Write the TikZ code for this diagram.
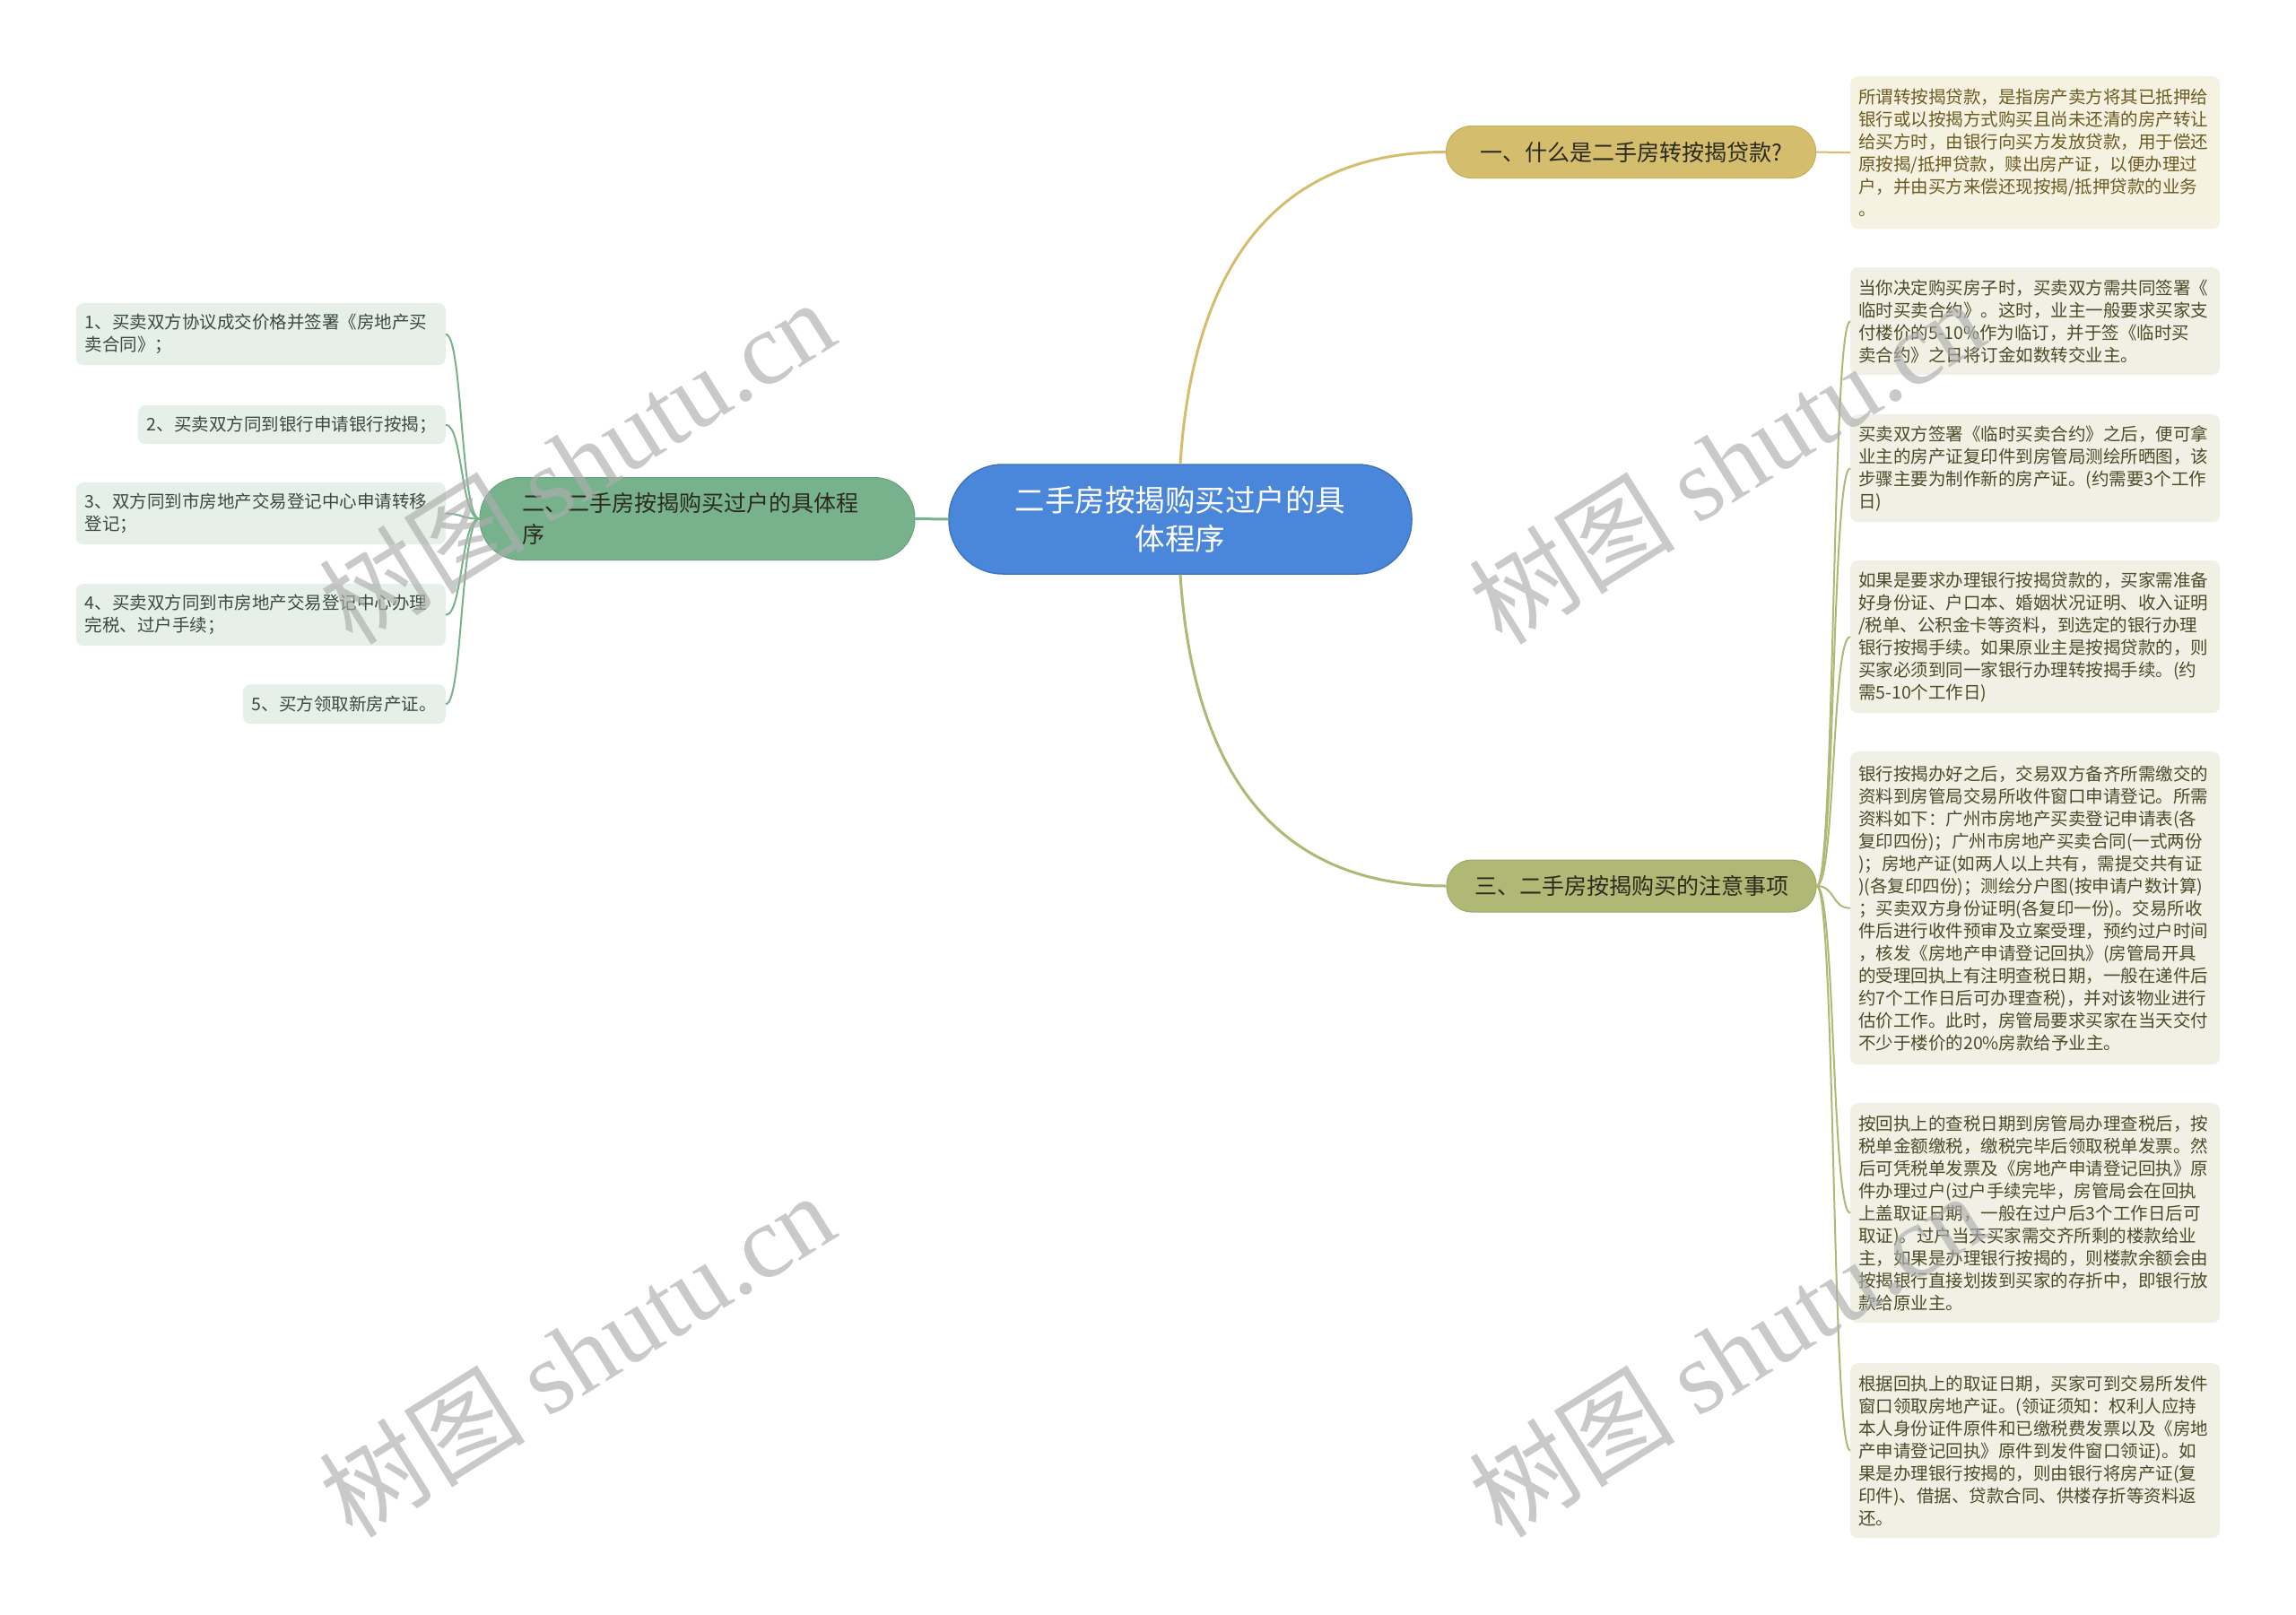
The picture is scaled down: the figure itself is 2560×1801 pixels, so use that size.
\documentclass[tikz,border=0pt]{standalone}
\usepackage{fontspec}
\setmainfont{Noto Sans CJK SC}
\newfontfamily\wmserif{Liberation Serif}
\newfontfamily\wmcjk{Noto Sans CJK SC}
\usetikzlibrary{calc}
\definecolor{cblue}{HTML}{4A86DA}
\definecolor{cbluedark}{HTML}{3D74C2}
\definecolor{bgold}{HTML}{D4BE6E}
\definecolor{bgolddark}{HTML}{C6AE5C}
\definecolor{bolive}{HTML}{B0B876}
\definecolor{bolivedark}{HTML}{A0A866}
\definecolor{bgreen}{HTML}{78B28C}
\definecolor{bgreendark}{HTML}{68A27C}
\definecolor{btext}{HTML}{2B2A1C}
\definecolor{rgoldfill}{HTML}{F5F2E1}
\definecolor{rgoldtext}{HTML}{6B5B22}
\definecolor{rolivefill}{HTML}{F0F1E4}
\definecolor{rolivetext}{HTML}{4B4B2A}
\definecolor{lfill}{HTML}{E6F0E9}
\definecolor{ltext}{HTML}{3A4A40}
\tikzset{
  rootbox/.style={rounded corners=60pt, fill=cblue, draw=cbluedark, line width=1.5pt, text=white,
    font=\fontsize{33.5}{43}\selectfont, align=center, minimum width=516pt, minimum height=122pt, inner sep=0pt},
  branchbox/.style={rounded corners=28pt, line width=1pt, text=btext,
    font=\fontsize{25}{30}\selectfont, minimum width=412pt, minimum height=58pt, inner sep=0pt},
  btwobox/.style={rounded corners=45pt, fill=bgreen, draw=bgreendark, line width=1pt, text=btext,
    font=\fontsize{25}{35}\selectfont, align=left, text width=391pt, inner xsep=47pt, inner ysep=0pt,
    minimum height=92pt},
  rleaf/.style={rounded corners=8pt, text width=394pt, inner xsep=9pt, inner ysep=0pt, align=left,
    font=\fontsize{19.5}{25}\selectfont, anchor=north west},
  rgold/.style={rleaf, fill=rgoldfill, text=rgoldtext},
  rolive/.style={rleaf, fill=rolivefill, text=rolivetext},
  lleaf/.style={rounded corners=8pt, inner xsep=10pt, inner ysep=0pt, fill=lfill, text=ltext,
    font=\fontsize{19.5}{25}\selectfont, anchor=north east},
  lleafwide/.style={lleaf, text width=392pt, align=left},
  mainline/.style={line width=3pt},
  leafline/.style={line width=2pt},
  wm/.style={text=black!32, text opacity=0.65, inner sep=0pt, rotate=32}
}
\begin{document}
\begin{tikzpicture}[x=1pt,y=-1pt]
\useasboundingbox[fill=white] (0,0) rectangle (2560,1801);

% root and branches
\node[rootbox] (root) at (1316,579) {二手房按揭购买过户的具\\体程序};
\node[branchbox, fill=bgold, draw=bgolddark] (b1) at (1818.5,169.5) {一、什么是二手房转按揭贷款?};
\node[branchbox, fill=bolive, draw=bolivedark] (b3) at (1819,988) {三、二手房按揭购买的注意事项};
\node[btwobox] (b2) at (777.5,578.5) {二、二手房按揭购买过户的具体程\\序};

% right leaves
\node[rgold, minimum height=170pt] (r1) at (2063,85) {所谓转按揭贷款，是指房产卖方将其已抵押给\\银行或以按揭方式购买且尚未还清的房产转让\\给买方时，由银行向买方发放贷款，用于偿还\\原按揭/抵押贷款，赎出房产证，以便办理过\\户，并由买方来偿还现按揭/抵押贷款的业务\\。};
\node[rolive, minimum height=120pt] (r2) at (2063,298) {当你决定购买房子时，买卖双方需共同签署《\\临时买卖合约》。这时，业主一般要求买家支\\付楼价的5-10\%作为临订，并于签《临时买\\卖合约》之日将订金如数转交业主。};
\node[rolive, minimum height=120pt] (r3) at (2063,462) {买卖双方签署《临时买卖合约》之后，便可拿\\业主的房产证复印件到房管局测绘所晒图，该\\步骤主要为制作新的房产证。(约需要3个工作\\日)};
\node[rolive, minimum height=170pt] (r4) at (2063,625) {如果是要求办理银行按揭贷款的，买家需准备\\好身份证、户口本、婚姻状况证明、收入证明\\/税单、公积金卡等资料，到选定的银行办理\\银行按揭手续。如果原业主是按揭贷款的，则\\买家必须到同一家银行办理转按揭手续。(约\\需5-10个工作日)};
\node[rolive, minimum height=349pt] (r5) at (2063,838) {银行按揭办好之后，交易双方备齐所需缴交的\\资料到房管局交易所收件窗口申请登记。所需\\资料如下：广州市房地产买卖登记申请表(各\\复印四份)；广州市房地产买卖合同(一式两份\\)；房地产证(如两人以上共有，需提交共有证\\)(各复印四份)；测绘分户图(按申请户数计算)\\；买卖双方身份证明(各复印一份)。交易所收\\件后进行收件预审及立案受理，预约过户时间\\，核发《房地产申请登记回执》(房管局开具\\的受理回执上有注明查税日期，一般在递件后\\约7个工作日后可办理查税)，并对该物业进行\\估价工作。此时，房管局要求买家在当天交付\\不少于楼价的20\%房款给予业主。};
\node[rolive, minimum height=245pt] (r6) at (2063,1230) {按回执上的查税日期到房管局办理查税后，按\\税单金额缴税，缴税完毕后领取税单发票。然\\后可凭税单发票及《房地产申请登记回执》原\\件办理过户(过户手续完毕，房管局会在回执\\上盖取证日期，一般在过户后3个工作日后可\\取证)。过户当天买家需交齐所剩的楼款给业\\主，如果是办理银行按揭的，则楼款余额会由\\按揭银行直接划拨到买家的存折中，即银行放\\款给原业主。};
\node[rolive, minimum height=195pt] (r7) at (2063,1520) {根据回执上的取证日期，买家可到交易所发件\\窗口领取房地产证。(领证须知：权利人应持\\本人身份证件原件和已缴税费发票以及《房地\\产申请登记回执》原件到发件窗口领证)。如\\果是办理银行按揭的，则由银行将房产证(复\\印件)、借据、贷款合同、供楼存折等资料返\\还。};

% left leaves
\node[lleafwide, minimum height=69pt] (l1) at (497,338) {1、买卖双方协议成交价格并签署《房地产买\\卖合同》；};
\node[lleaf, minimum height=43pt] (l2) at (497,452) {2、买卖双方同到银行申请银行按揭；};
\node[lleafwide, minimum height=69pt] (l3) at (497,538) {3、双方同到市房地产交易登记中心申请转移\\登记；};
\node[lleafwide, minimum height=69pt] (l4) at (497,651) {4、买卖双方同到市房地产交易登记中心办理\\完税、过户手续；};
\node[lleaf, minimum height=44pt] (l5) at (497,763) {5、买方领取新房产证。};

% main connectors
\draw[bgold, mainline] (root.north) .. controls (1330,300) and (1420,169.5) .. (b1.west);
\draw[bolive, mainline] (root.south) .. controls (1330,858) and (1420,988) .. (b3.west);
\draw[bgreen, mainline] (root.west) -- (b2.east);

% branch 1 to leaf
\draw[bgold, leafline] (b1.east) -- (r1.west);

% branch 3 to leaves
\foreach \n in {r2,r3,r4,r5,r6,r7}{
  \draw[bolive, leafline] (b3.east) .. controls ($(b3.east)+(21,0)$) and ($(\n.west)+(-21,0)$) .. (\n.west);
}

% branch 2 to leaves
\foreach \n in {l1,l2,l3,l4,l5}{
  \draw[bgreen, leafline] (b2.west) .. controls ($(b2.west)+(-21,0)$) and ($(\n.east)+(19,0)$) .. (\n.east);
}

% watermarks
\node[wm] (w1) at (643,514) {\fontsize{115}{125}\selectfont{\wmcjk 树图} {\wmserif shutu.cn}};
\node[wm] (w2) at (1925,514) {\fontsize{115}{125}\selectfont{\wmcjk 树图} {\wmserif shutu.cn}};
\node[wm] (w3) at (643,1510) {\fontsize{115}{125}\selectfont{\wmcjk 树图} {\wmserif shutu.cn}};
\node[wm] (w4) at (1925,1510) {\fontsize{115}{125}\selectfont{\wmcjk 树图} {\wmserif shutu.cn}};
\end{tikzpicture}
\end{document}
